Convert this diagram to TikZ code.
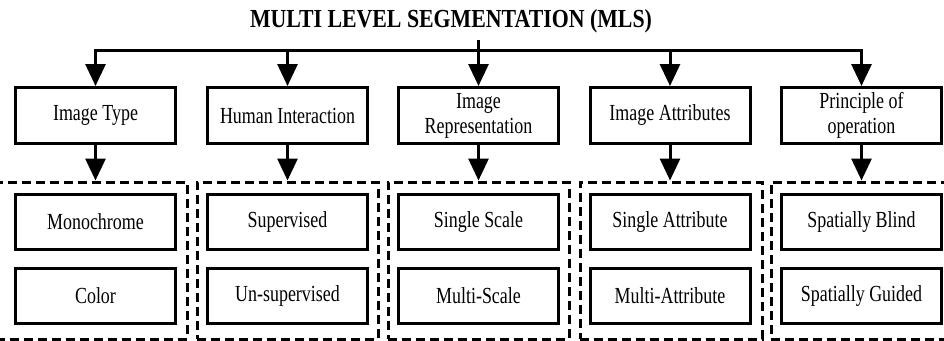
\documentclass[tikz,border=0pt]{standalone}
\usepackage{fontspec}
\setmainfont{Liberation Serif}
\newfontfamily\boxfont{Liberation Serif}[FakeStretch=0.78]
\newfontfamily\titlefont{Liberation Serif}[FakeStretch=0.84]
\usetikzlibrary{arrows.meta}
\begin{document}
\begin{tikzpicture}[x=1pt,y=-1pt,
  conn/.style={line width=3pt},
  arr/.style={line width=3pt,-{Triangle[length=22pt,width=20pt]}},
  topbox/.style={draw,line width=3pt,minimum width=160pt,minimum height=56pt,inner sep=0pt,
    align=center,font=\boxfont\fontsize{23}{25}\selectfont},
  subbox/.style={draw,line width=3pt,minimum width=160pt,minimum height=55pt,inner sep=0pt,
    align=center,font=\boxfont\fontsize{23}{25}\selectfont},
  grp/.style={draw,line width=3pt,dash pattern=on 9pt off 5pt,minimum height=157pt,inner sep=0pt}]
\useasboundingbox (0,0) rectangle (944,340);
\node[font=\titlefont\bfseries\fontsize{26}{28}\selectfont,inner sep=0pt] (title) at (451,21) {MULTI LEVEL SEGMENTATION (MLS)};
% groups
\node[grp,minimum width=205pt] (g1) at (84.5,260.5) {};
\node[grp,minimum width=181pt] (g2) at (287.5,260.5) {};
\node[grp,minimum width=181pt] (g3) at (478.5,260.5) {};
\node[grp,minimum width=182pt] (g4) at (671,260.5) {};
\node[grp,minimum width=200pt] (g5) at (871,260.5) {};
% top boxes
\node[topbox] (t1) at (95.5,115.5) {Image Type};
\node[topbox] (t2) at (287.5,115.5) {Human Interaction};
\node[topbox] (t3) at (478.5,115.5) {Image\\Representation};
\node[topbox] (t4) at (670,115.5) {Image Attributes};
\node[topbox] (t5) at (861.5,115.5) {Principle of\\operation};
% sub boxes
\node[subbox] (a1) at (95.5,221.5) {Monochrome};
\node[subbox] (b1) at (95.5,296) {Color};
\node[subbox] (a2) at (287.5,221.5) {Supervised};
\node[subbox] (b2) at (287.5,296) {Un-supervised};
\node[subbox] (a3) at (478.5,221.5) {Single Scale};
\node[subbox] (b3) at (478.5,296) {Multi-Scale};
\node[subbox] (a4) at (670,221.5) {Single Attribute};
\node[subbox] (b4) at (670,296) {Multi-Attribute};
\node[subbox] (a5) at (861.5,221.5) {Spatially Blind};
\node[subbox] (b5) at (861.5,296) {Spatially Guided};
% bus
\coordinate (stem) at (478.5,40);
\coordinate (bus) at (478.5,50);
\draw[conn] (stem) -- (bus);
\draw[conn,line cap=rect] (bus -| t1) -- (bus -| t5);
\foreach \i in {1,...,5}{
  \draw[arr] (bus -| t\i) -- (t\i.north);
  \draw[arr] (t\i.south) -- (t\i.south |- g\i.north);
}
\end{tikzpicture}
\end{document}
